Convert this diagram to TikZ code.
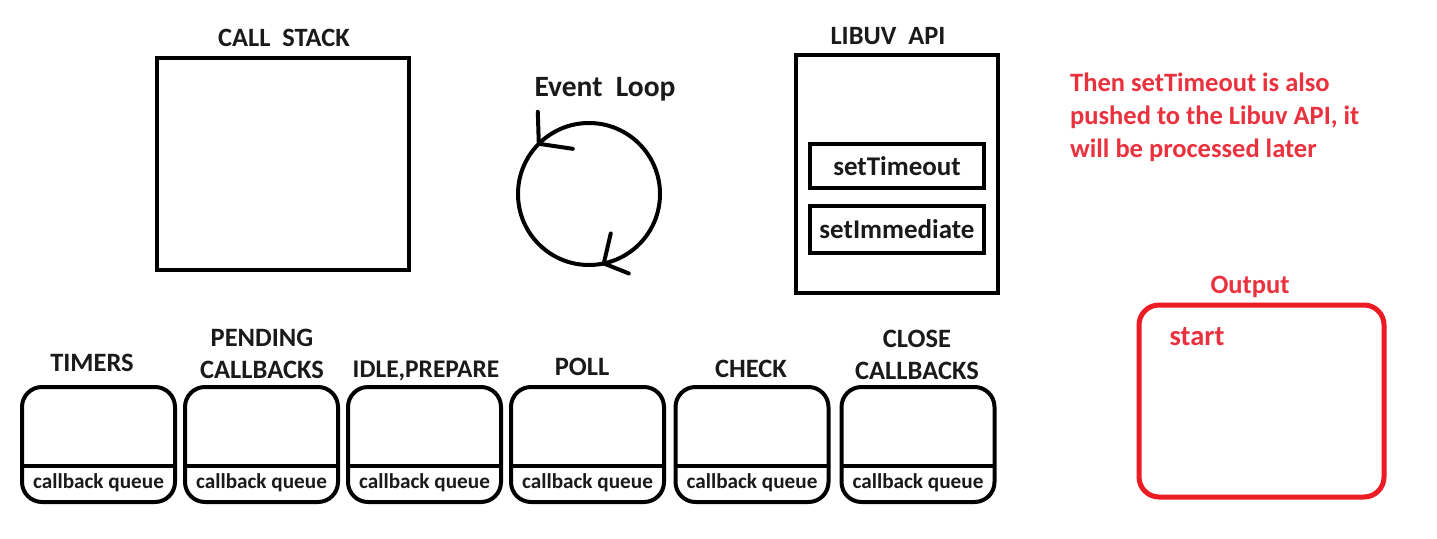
\documentclass[tikz,border=0pt]{standalone}
\usepackage{fontspec}
\setmainfont{Carlito}
\definecolor{ink}{HTML}{1A1A1A}
\definecolor{redc}{HTML}{ED1C24}
\definecolor{redt}{HTML}{EA323E}
\begin{document}
\begin{tikzpicture}[x=1pt,y=-1pt,
  title/.style={font=\bfseries\fontsize{26.4}{30}\selectfont, text=ink, inner sep=0pt, align=center},
  stage/.style={font=\bfseries\fontsize{26.5}{32}\selectfont, text=ink, inner sep=0pt, align=center},
  sqbox/.style={draw=black, line width=4pt, outer sep=0pt, inner sep=0pt},
  qbox/.style={draw=black, line width=4pt, rounded corners=20pt, outer sep=0pt, inner sep=0pt, minimum width=153pt, minimum height=115pt},
  qtext/.style={font=\bfseries\fontsize{21.2}{24}\selectfont, text=ink, inner sep=0pt},
  fntext/.style={font=\bfseries\fontsize{27}{30}\selectfont, text=ink, inner sep=0pt},
  redtext/.style={font=\bfseries\fontsize{26.5}{33}\selectfont, text=redt, inner sep=0pt},
  stroke/.style={line width=4pt, draw=black, line cap=round}
]
\useasboundingbox[fill=white] (0,0) rectangle (1437,538);

% Call stack
\node[title] (cstitle) at (284,38) {CALL\ \ STACK};
\node[sqbox, minimum width=252pt, minimum height=212pt] (cs) at (283,164) {};

% Event loop
\node[title, font=\bfseries\fontsize{29.5}{30}\selectfont] (eltitle) at (605,89) {Event\ \ Loop};
\node[draw=black, circle, line width=4pt, outer sep=0pt, inner sep=0pt, minimum size=142pt] (loop) at (589,194) {};
\draw[stroke] (loop.135) ++(-1,-32) -- (loop.135) -- ++(34,5);
\draw[stroke] (loop.-78) ++(7,-30) -- (loop.-78) -- ++(25,10);

% Libuv API
\node[title] (lbtitle) at (888,36) {LIBUV\ \ API};
\node[sqbox, minimum width=202pt, minimum height=238pt] (libuv) at (897,174) {};
\node[sqbox, minimum width=174pt, minimum height=44pt] (st) at (897,166) {};
\node[fntext] (sttext) at (st.center) {setTimeout};
\node[sqbox, minimum width=174pt, minimum height=47pt] (si) at (897,229.5) {};
\node[fntext] (sitext) at (si.center) {setImmediate};

% Explanation
\node[redtext, anchor=north west, align=left] (note) at (1070,73) {Then setTimeout is also\\pushed to the Libuv API, it\\will be processed later};

% Output
\node[redtext] (outtitle) at (1250,287) {Output};
\node[draw=redc, line width=5pt, rounded corners=20pt, outer sep=0pt, inner sep=0pt, minimum width=245pt, minimum height=192pt] (out) at (1261.5,401) {};
\node[redtext, font=\bfseries\fontsize{28.5}{33}\selectfont] (start) at (1197,337) {start};

% Phases
\foreach \n/\x in {b1/98.5, b2/261.5, b3/424.5, b4/587.5, b5/752, b6/918}{
  \node[qbox] (\n) at (\x,444.5) {};
  \draw[line width=4pt] ([yshift=36pt]\n.south west) -- ([yshift=36pt]\n.south east);
  \node[qtext] (\n q) at ([yshift=19pt]\n.south) {callback queue};
}
\node[stage] (l1) at (92,363) {TIMERS};
\node[stage] (l2) at (262,354) {PENDING\\CALLBACKS};
\node[stage, font=\bfseries\fontsize{25.4}{30}\selectfont] (l3) at (426,371) {IDLE,PREPARE};
\node[stage] (l4) at (582,367) {POLL};
\node[stage] (l5) at (751,369) {CHECK};
\node[stage] (l6) at (917,355) {CLOSE\\CALLBACKS};
\end{tikzpicture}
\end{document}
